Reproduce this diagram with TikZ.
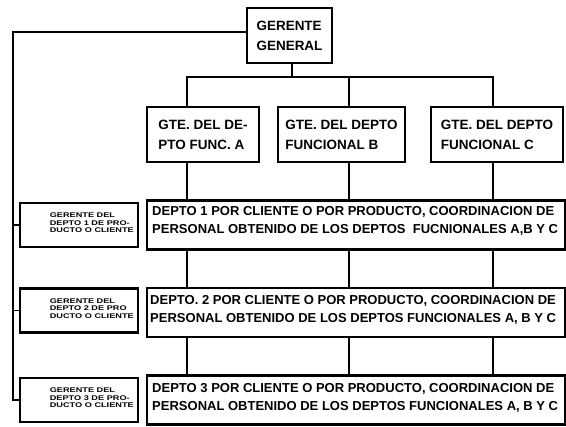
\documentclass[tikz,border=0pt]{standalone}
\usepackage{fontspec}
\setmainfont{Liberation Sans}
\newfontfamily\widefont[FakeStretch=1.35]{Liberation Sans}
\usetikzlibrary{positioning}
\tikzset{>=stealth,
	box/.style={% thick boxes of the chart
		draw, rectangle,
		line width=2.4pt,
		inner sep=0pt,
		outer sep=0pt,
		align=left,
		font=\fontsize{11.5}{17}\selectfont\bfseries
	},
	depto/.style={
		align=left,
		inner sep=0pt,
		font=\fontsize{11.1}{16}\selectfont\bfseries
	},
	small/.style={
		align=left,
		inner sep=0pt,
		font=\widefont\fontsize{5.8}{6.4}\selectfont\bfseries
	},
	link/.style={line width=1.3pt}
}
\begin{document}
\begin{tikzpicture}[x=0.03cm,y=-0.03cm]
			\useasboundingbox (0,0) rectangle (566,427);
			\node [box, minimum width=2.55cm, minimum height=1.65cm] (gg) at (289.5,35.5) {GERENTE\\GENERAL};
			\node [box, minimum width=3.36cm, minimum height=1.65cm] (fa) at (203,134.5) {GTE. DEL DE-\\PTO FUNC. A};
			\node [box, minimum width=3.81cm, minimum height=1.65cm] (fb) at (341.5,134.5) {GTE. DEL DEPTO\\FUNCIONAL B};
			\node [box, minimum width=3.96cm, minimum height=1.65cm] (fc) at (497,134.5) {GTE. DEL DEPTO\\FUNCIONAL C};
			% departamentos por producto o cliente
			\node [box, minimum width=12.54cm, minimum height=1.47cm] (dp1) at (356,225) {};
			\node [box, minimum width=12.54cm, minimum height=1.47cm] (dp2) at (356,312.5) {};
			\node [box, minimum width=12.54cm, minimum height=1.47cm] (dp3) at (356,400) {};
			\node [depto, anchor=west] (t1) at (152,221) {DEPTO\ 1 POR CLIENTE O POR PRODUCTO, COORDINACION DE\\PERSONAL OBTENIDO DE LOS DEPTOS\ \ FUCNIONALES A,B Y C};
			\node [depto, anchor=west] (t2) at (150,310) {DEPTO. 2 POR CLIENTE O POR PRODUCTO, COORDINACION DE\\PERSONAL OBTENIDO DE LOS DEPTOS\ FUNCIONALES A, B Y C};
			\node [depto, anchor=west] (t3) at (152,398) {DEPTO 3 POR CLIENTE O POR PRODUCTO, COORDINACION DE\\PERSONAL OBTENIDO DE LOS DEPTOS\ FUNCIONALES A, B Y C};
			\draw [line width=2.4pt] (dp1.north east) -- (dp1.south east);
			\draw [line width=2.4pt] (dp2.north east) -- (dp2.south east);
			\draw [line width=2.4pt] (dp3.north east) -- (dp3.south east);
			% gerentes de producto
			\node [box, minimum width=3.54cm, minimum height=1.32cm] (gp1) at (79,225) {};
			\node [box, minimum width=3.54cm, minimum height=1.32cm] (gp2) at (79,310.5) {};
			\node [box, minimum width=3.54cm, minimum height=1.32cm] (gp3) at (79,400) {};
			\node [small, anchor=east] (s1) at (134,223) {GERENTE DEL\\DEPTO 1 DE PRO-\\DUCTO O CLIENTE};
			\node [small, anchor=east] (s2) at (134,308.5) {GERENTE DEL\\DEPTO 2 DE PRO\\DUCTO O CLIENTE};
			\node [small, anchor=east] (s3) at (134,398) {GERENTE DEL\\DEPTO 3 DE PRO-\\DUCTO O CLIENTE};
			% lineas
			\coordinate (lt) at (13,32);
			\coordinate (bus) at (292,77);
			\coordinate (xa) at (187,0);
			\coordinate (xb) at (349,0);
			\coordinate (xc) at (493,0);
			\draw [link] (gg.west |- lt) -- (lt) -- (lt |- gp3) -- (gp3.west);
			\draw [link] (lt |- gp1) -- (gp1.west);
			\draw [link] (lt |- gp2) -- (gp2.west);
			\draw [link] (gg.south -| bus) -- (bus);
			\draw [link] (fa.north -| xa) -- (xa |- bus) -- (xc |- bus) -- (fc.north -| xc);
			\draw [link] (xb |- bus) -- (fb.north -| xb);
			\foreach \c/\f in {xa/fa, xb/fb, xc/fc} {
				\draw [link] (\f.south -| \c) -- (dp1.north -| \c);
				\draw [link] (dp1.south -| \c) -- (dp2.north -| \c);
				\draw [link] (dp2.south -| \c) -- (dp3.north -| \c);
			}
\end{tikzpicture}
\end{document}
